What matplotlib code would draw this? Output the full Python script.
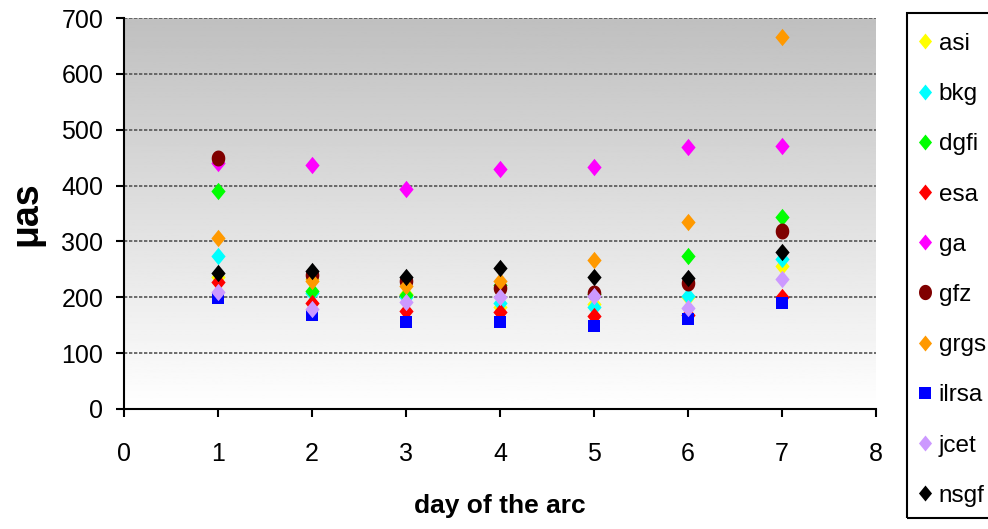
import numpy as np
import matplotlib
matplotlib.use("Agg")
import matplotlib.pyplot as plt
from matplotlib.lines import Line2D
from matplotlib.path import Path
from matplotlib.patches import Rectangle

days = [1, 2, 3, 4, 5, 6, 7]
series_names = ["asi", "bkg", "dgfi", "esa", "ga", "gfz", "grgs", "ilrsa", "jcet", "nsgf"]
asi = [236, 232, 205, 183, 188, 200, 256]
bkg = [274, 207, 200, 190, 183, 202, 268]
dgfi = [390, 212, 204, 222, 205, 274, 344]
esa = [227, 190, 175, 174, 166, 168, 200]
ga = [440, 437, 394, 429, 434, 469, 471]
gfz = [450, 240, 230, 216, 208, 225, 319]
grgs = [306, 230, 220, 229, 267, 335, 666]
ilrsa = [199, 168, 156, 156, 148, 161, 190]
jcet = [209, 179, 192, 201, 202, 181, 233]
nsgf = [243, 247, 236, 252, 237, 234, 281]

values = [asi, bkg, dgfi, esa, ga, gfz, grgs, ilrsa, jcet, nsgf]
colors = ["#FFFF00", "#00FFFF", "#00FF00", "#FF0000", "#FF00FF", "#800000",
          "#FF9900", "#0000FF", "#CC99FF", "#000000"]

diamond = Path([(0, 1), (0.82, 0), (0, -1), (-0.82, 0), (0, 1)],
               [Path.MOVETO, Path.LINETO, Path.LINETO, Path.LINETO, Path.CLOSEPOLY])
t = np.linspace(0, 2 * np.pi, 40)
oval = Path(np.column_stack([0.85 * np.cos(t), np.sin(t)]))
markers = [diamond, diamond, diamond, diamond, diamond, oval, diamond, "s", diamond, diamond]
sizes = [12.5, 12.5, 12.5, 12.5, 12.5, 11.5, 12.5, 8.5, 12.5, 12.5]
leg_sizes = [11.5, 11.5, 11.5, 11.5, 11.5, 11, 11.5, 8, 11.5, 11.5]

plt.rcParams['font.family'] = ['Liberation Sans', 'DejaVu Sans']

fig = plt.figure(figsize=(9.88, 5.29), dpi=100)
ax = fig.add_axes([124/988, 1 - 409/529, (876 - 124)/988, (409 - 18)/529])

grad = np.linspace(1.0, 0.75, 256).reshape(-1, 1)
ax.imshow(grad, cmap='gray', vmin=0, vmax=1, aspect='auto',
          extent=[0, 1, 0, 1], transform=ax.transAxes, zorder=0, origin='lower')

ax.set_xlim(0, 8)
ax.set_ylim(0, 700)
ax.set_xticks(range(0, 9))
ax.set_yticks(range(0, 701, 100))
ax.yaxis.grid(True, color='#555555', linestyle=(0, (2, 1)), linewidth=1.2, zorder=1)
ax.set_axisbelow(True)

for i in range(len(values)):
    ax.plot(days, values[i], linestyle='none', marker=markers[i], color=colors[i],
            markersize=sizes[i], markeredgewidth=0, zorder=3, clip_on=False)

for s in ['top', 'right']:
    ax.spines[s].set_visible(False)
ax.spines['left'].set_color('black')
ax.spines['bottom'].set_color('black')
ax.spines['left'].set_linewidth(1.5)
ax.spines['bottom'].set_linewidth(1.5)
ax.tick_params(axis='both', labelsize=18, length=6, width=1.5, direction='out')
ax.tick_params(axis='x', pad=18)
ax.tick_params(axis='y', pad=9)
ax.set_xlabel("day of the arc", fontsize=19, fontweight='bold', labelpad=20)
ax.set_ylabel("μas", fontsize=27, fontweight='bold', labelpad=12)

handles = [Line2D([0], [0], linestyle='none', marker=markers[i], color=colors[i],
                  markersize=leg_sizes[i], markeredgewidth=0) for i in range(len(values))]
leg = fig.legend(handles, series_names, loc='upper left',
                 bbox_to_anchor=(907/988, 1 - 22/529), fontsize=17.5,
                 frameon=False,
                 handlelength=0.55, handletextpad=0.3, labelspacing=1.16,
                 borderpad=0.45, borderaxespad=0, handleheight=0.7)

fig.patches.append(Rectangle((907/988, 1 - 518/529), 90/988, (518 - 13)/529,
                             transform=fig.transFigure, fill=False,
                             edgecolor='black', linewidth=1.5))

fig.savefig("out.png", dpi=100)
